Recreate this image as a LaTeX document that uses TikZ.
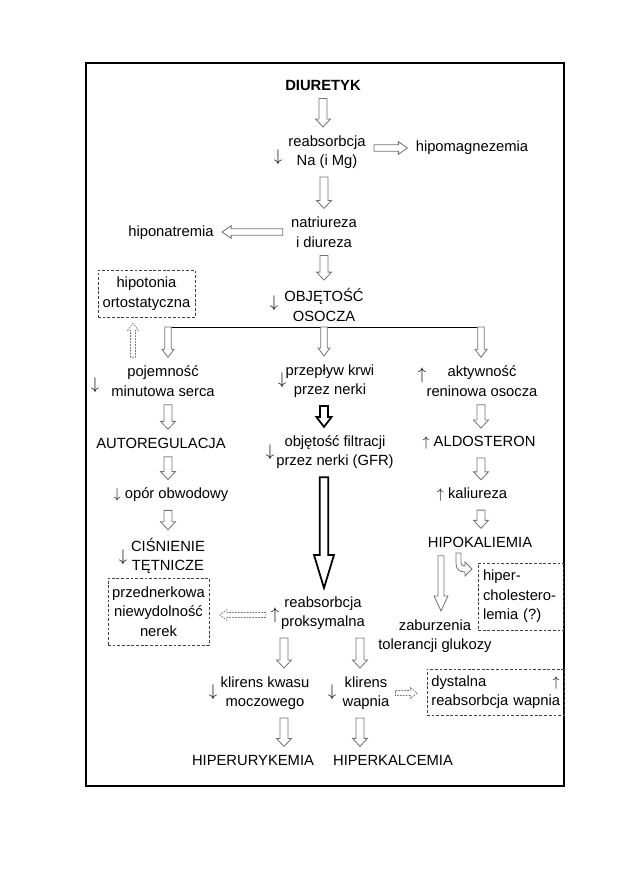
\documentclass[tikz,border=0pt]{standalone}
\usepackage{fontspec}
\setmainfont{Liberation Sans}
\usetikzlibrary{calc}
\newcommand{\diafont}{\fontsize{12.6pt}{16.6pt}\selectfont}

\begin{document}
\begin{tikzpicture}[
    x=0.03cm, y=-0.03cm, font=\diafont,
    ashaft/.store in=\ashaft, ahead/.store in=\ahead, alen/.store in=\alen,
    gapstart/.store in=\gapA, gapend/.store in=\gapB,
    ashaft=0.12cm, ahead=0.225cm, alen=0.24cm, gapstart=5pt, gapend=5pt,
    harrow/.style={draw=black!55, fill=white, line width=0.7pt, to path={
        let \p1=(\tikztostart), \p2=(\tikztotarget),
            \n1={atan2((\y2)-(\y1),(\x2)-(\x1))},
            \n2={veclen((\x2)-(\x1),(\y2)-(\y1))} in
        ([shift={(\p1)},rotate=\n1]\gapA,\ashaft)
        -- ([shift={(\p1)},rotate=\n1]\n2-\gapB-\alen,\ashaft)
        -- ([shift={(\p1)},rotate=\n1]\n2-\gapB-\alen,\ahead)
        -- ([shift={(\p1)},rotate=\n1]\n2-\gapB,0pt)
        -- ([shift={(\p1)},rotate=\n1]\n2-\gapB-\alen,-\ahead)
        -- ([shift={(\p1)},rotate=\n1]\n2-\gapB-\alen,-\ashaft)
        -- ([shift={(\p1)},rotate=\n1]\gapA,-\ashaft) -- cycle}},
    hharrow/.style={harrow, ashaft=0.1cm, ahead=0.19cm, alen=0.27cm},
    brarrow/.style={harrow, ashaft=0.1cm, ahead=0.18cm},
    barrow/.style={harrow, draw=black, line width=1.5pt, ashaft=0.12cm, ahead=0.23cm, alen=0.3cm},
    dharrow/.style={harrow, dash pattern=on 1.5pt off 1pt, line width=0.6pt, ashaft=0.075cm, ahead=0.16cm, alen=0.21cm},
    gline/.style={draw=black!55, fill=white, line width=0.7pt},
    txt/.style={align=center, inner sep=2pt},
    arrglyph/.style={inner sep=1pt, font=\fontsize{14pt}{16pt}\selectfont},
    dbox/.style={draw=black!75, dash pattern=on 2.4pt off 1.6pt, line width=0.55pt, align=center, inner sep=2pt}
]
\useasboundingbox (0,0) rectangle (630,893);
\draw[line width=0.9pt] (86,63) rectangle (564,786);

\node[txt, font=\diafont\bfseries] (diur) at (323,85) {DIURETYK};
\node[txt] (reab) at (327,152) {reabsorbcja\\Na (i Mg)};
\node[arrglyph] (reabm) at (278,157) {$\downarrow$};
\node[txt] (hmag) at (472,148) {hipomagnezemia};
\node[txt] (natri) at (324,232) {natriureza\\i diureza};
\node[txt] (hnat) at (171,233) {hiponatremia};
\node[txt] (obj) at (324,305) {OBJĘTOŚĆ\\OSOCZA};
\node[arrglyph] (objm) at (274,303) {$\downarrow$};
\node[dbox, minimum width=2.91cm, minimum height=1.41cm] (hipot) at (146.5,293.5) {hipotonia\\ortostatyczna};

\coordinate (barl) at (168,327);
\coordinate (barr) at (481,327);

\node[txt] (poj) at (163,381) {pojemność\\minutowa serca};
\node[arrglyph] (pojm) at (95,385) {$\downarrow$};
\node[txt] (przep) at (330,381) {przepływ krwi\\przez nerki};
\node[arrglyph] (przepm) at (282,380) {$\downarrow$};
\node[txt] (akt) at (482,381) {aktywność\\reninowa osocza};
\node[arrglyph] (aktm) at (422,375) {$\uparrow$};

\node[txt] (autor) at (161,443) {AUTOREGULACJA};
\node[txt] (gfr) at (335,452) {objętość filtracji\\przez nerki (GFR)};
\node[arrglyph] (gfrm) at (270,452) {$\downarrow$};
\node[txt] (aldo) at (479,443) {$\uparrow$ ALDOSTERON};
\node[txt] (opor) at (171,495) {$\downarrow$ opór obwodowy};
\node[txt] (kaliur) at (472,495) {$\uparrow$ kaliureza};
\node[txt] (cisn) at (168,556) {CIŚNIENIE\\TĘTNICZE};
\node[arrglyph] (cisnm) at (123,557) {$\downarrow$};
\node[txt] (hipok) at (480,542) {HIPOKALIEMIA};

\node[dbox, minimum width=3.03cm, minimum height=2.01cm] (przedn) at (158.5,611.5) {przednerkowa\\niewydolność\\nerek};
\node[txt] (reabp) at (323,613) {reabsorbcja\\proksymalna};
\node[arrglyph] (reabpm) at (275,615) {$\uparrow$};
\node[txt] (zab) at (435,636) {zaburzenia\\tolerancji glukozy};
\node[dbox, align=left, text width=2.25cm, inner xsep=0.15cm, minimum height=2.01cm] (hchol) at (520.5,596.5) {hiper-\\cholestero-\\lemia (?)};

\node[txt] (klk) at (265,693) {klirens kwasu\\moczowego};
\node[arrglyph] (klkm) at (213,692) {$\downarrow$};
\node[txt] (klw) at (366,693) {klirens\\wapnia};
\node[arrglyph] (klwm) at (332,692) {$\downarrow$};
\node[dbox, align=left, text width=3.85cm, inner xsep=0.13cm, minimum height=1.38cm] (dyst) at (495.5,692) {dystalna\hfill$\uparrow$\\\mbox{reabsorbcja wapnia}};
\node[txt] (hurk) at (253,760) {HIPERURYKEMIA};
\node[txt] (hkal) at (393,760) {HIPERKALCEMIA};

\draw[harrow] (diur.south) to (diur.south |- reab.north);
\draw[hharrow] (hmag.west -| reab.east) to (hmag.west);
\draw[harrow] (natri.north |- reab.south) to (natri.north);
\draw[hharrow] (natri.west) to (natri.west -| hnat.east);
\draw[harrow] (natri.south) to (natri.south |- obj.north);

\draw[line width=0.8pt] (barl) -- (barr);
\draw[brarrow, gapstart=0pt] (barl) to (barl |- poj.north);
\draw[brarrow, gapstart=0pt] (obj.south |- barl) to (obj.south |- przep.north);
\draw[brarrow, gapstart=0pt] (barr) to (barr |- akt.north);
\draw[dharrow] ($(hipot.south |- poj.north)+(-13.5,0)$) to ($(hipot.south)+(-13.5,0)$);

\draw[harrow] (barl |- poj.south) to (barl |- autor.north);
\draw[barrow] (obj.south |- przep.south) to (obj.south |- gfr.north);
\draw[harrow] (barr |- akt.south) to (barr |- aldo.north);
\draw[harrow] (barl |- autor.south) to (barl |- opor.north);
\draw[harrow] (barr |- aldo.south) to (barr |- kaliur.north);
\draw[harrow] (barl |- opor.south) to (barl |- cisn.north);
\draw[harrow] (barr |- kaliur.south) to (barr |- hipok.north);

\draw[barrow, ashaft=0.13cm, ahead=0.3cm, alen=0.99cm] (obj.south |- gfr.south) to (obj.south |- reabp.north);
\draw[dharrow, gapstart=3pt, gapend=9pt] (reabpm.west) to (reabpm.west -| przedn.east);
\draw[harrow, ashaft=0.09cm, ahead=0.21cm, alen=0.45cm] ($(zab.north |- hipok.south)+(6,0)$) to ($(zab.north)+(6,0)$);
\draw[gline, shift={(hipok.center)}] (-24,11) -- (-24,21) .. controls (-24,27) and (-21,30) .. (-15,30)
    -- (-15,34) -- (-8,27) -- (-15,20) -- (-15,24) .. controls (-17,24) and (-19,23) .. (-19,21) -- (-19,11) -- cycle;

\draw[harrow] ($(klk.north |- reabp.south)+(19,0)$) to ($(klk.north)+(19,0)$);
\draw[harrow] ($(klw.north |- reabp.south)+(-6,0)$) to ($(klw.north)+(-6,0)$);
\draw[dharrow, gapstart=3pt, gapend=8pt] (klw.east) to (klw.east -| dyst.west);
\draw[harrow] ($(klk.south)+(19,0)$) to ($(klk.south |- hurk.north)+(19,0)$);
\draw[harrow] ($(klw.south)+(-6,0)$) to ($(klw.south |- hkal.north)+(-6,0)$);
\end{tikzpicture}
\end{document}
